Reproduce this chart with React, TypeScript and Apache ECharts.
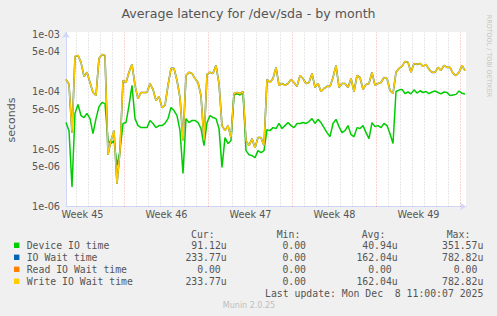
import React, { useEffect, useRef } from 'react';
import * as echarts from 'echarts';

// one consolidated sample every 6 hours, x = hours since the graph start
const stepHours = 6;
const spanHours = 800;

// Device IO time, microseconds
const deviceIoUs = [
  29, 21, 2.2, 42, 60, 38.5, 35.5, 42, 34, 18.6, 34, 55, 65, 62, 14.1, 12.5, 14.1, 5.2, 9.4, 28, 29, 58, 129, 34, 25.7, 23.7, 23.7,
  23.7, 31.6, 28, 23.7, 25.7, 25.7, 28, 34, 53, 47, 38.5, 21, 3.75, 34, 29, 31.6, 31.6, 29, 22.8, 11.5, 29, 38.5, 35.5, 34, 22.8, 4.8, 15.9,
  12.5, 14.1, 88, 92, 88, 96, 9.4, 8.0, 7.7, 7.1, 9.4, 8.7, 9.4, 21.9, 21, 23.7, 22.8, 28, 22.8, 25.7, 29, 25.7, 23.7, 28, 28, 29,
  28, 30.3, 34, 28, 33, 29, 23.7, 19.4, 16.5, 28, 33, 24.7, 19.4, 21, 25.7, 17.9, 16.5, 23.7, 22.8, 25.7, 19.4, 15.2, 29, 24.7, 25.7, 23.7, 28,
  25.7, 18.6, 12.5, 101, 107, 110, 93, 99, 92, 108, 95, 104, 97, 101, 93, 99, 103, 97, 92, 99, 97, 86, 88, 90, 103, 94, 91.12,
];

// IO Wait time, microseconds
const ioWaitUs = [
  164, 134, 19.4, 413, 430, 325, 185, 218, 145, 97, 86, 381, 448, 430, 8.0, 14.1, 21, 2.5, 9.4, 157, 145, 218, 300, 129, 76, 97, 97,
  97, 139, 110, 70, 83, 53, 58, 129, 255, 255, 157, 79, 14.1, 192, 218, 209, 170, 145, 86, 14.1, 200, 218, 209, 288, 139, 25.7, 21,
  25.7, 15.9, 93, 97, 93, 101, 14.1, 11.5, 15.2, 10.6, 15.9, 15.9, 11.5, 164, 145, 170, 266, 129, 139, 129, 139, 164, 145, 124, 192, 170,
  139, 145, 209, 119, 139, 101, 114, 124, 124, 177, 288, 119, 139, 139, 119, 170, 101, 192, 177, 110, 134, 139, 218, 129, 139, 145, 177,
  170, 105, 93, 218, 255, 277, 338, 325, 218, 312, 300, 312, 277, 300, 245, 218, 218, 266, 236, 288, 266, 266, 209, 192, 218, 288, 233.77,
];

// Write IO Wait time equals IO Wait time (identical statistics in the legend)
const writeIoWaitUs = ioWaitUs;
// Read IO Wait time is 0.00 throughout (drawn at the axis floor on the log scale)
const readIoWaitValue = 0;

const weekLabels = ['Week 45', 'Week 46', 'Week 47', 'Week 48', 'Week 49'];
const weekLabelHours = [33, 201, 369, 537, 705];
const mondayHours = [117, 285, 453, 621, 789];
const firstMidnightHour = 21;

const yTickValues = [1e-6, 5e-6, 1e-5, 5e-5, 1e-4, 5e-4, 1e-3];
const yTickLabels = ['1e-06', '5e-06', '1e-05', '5e-05', '1e-04', '5e-04', '1e-03'];
const yMinorMultipliers = [2, 3, 4, 6, 7, 8, 9];
const yDecades = [1e-6, 1e-5, 1e-4];

const legendNames = ['Device IO time', 'IO Wait time', 'Read IO Wait time', 'Write IO Wait time'];
const legendColors = ['#00CC00', '#0066B3', '#FF8000', '#FFCC00'];
const curVals = ['91.12u', '233.77u', '0.00', '233.77u'];
const minVals = ['0.00', '0.00', '0.00', '0.00'];
const avgVals = ['40.94u', '162.04u', '0.00', '162.04u'];
const maxVals = ['351.57u', '782.82u', '0.00', '782.82u'];
const columnHeaders = ['Cur:', 'Min:', 'Avg:', 'Max:'];

const titleText = 'Average latency for /dev/sda - by month';
const lastUpdate = 'Last update: Mon Dec \u00A08 11:00:07 2025';
const versionText = 'Munin 2.0.25';
const sideText = 'RRDTOOL / TOBI OETIKER';

const toSeries = (arr: number[]) => arr.map((v, i) => [i * stepHours, v * 1e-6]);

function closestLabel(v: number, values: number[], labels: string[], log: boolean) {
  let best = 0;
  let bd = Infinity;
  values.forEach((t, i) => {
    const d = log ? Math.abs(Math.log10(v) - Math.log10(t)) : Math.abs(v - t);
    if (d < bd) { bd = d; best = i; }
  });
  return labels[best];
}

export default function App() {
  const ref = useRef<HTMLDivElement>(null);
  useEffect(() => {
    if (!ref.current) return;
    const chart = echarts.init(ref.current, null, { renderer: 'svg' });

    const dayHours: number[] = [];
    for (let h = firstMidnightHour; h < spanHours; h += 24) {
      if (!mondayHours.includes(h)) dayHours.push(h);
    }
    const yMinor: number[] = [];
    yDecades.forEach((d) => yMinorMultipliers.forEach((m) => yMinor.push(d * m)));

    const minorStyle = { color: 'rgba(190,190,190,0.75)', type: [1, 2] as any, width: 1 };
    const majorStyle = { color: 'rgba(240,130,130,0.7)', type: [1, 2] as any, width: 1 };

    const gridLines = [
      ...yMinor.map((v) => ({ yAxis: v, lineStyle: minorStyle })),
      ...dayHours.map((h) => ({ xAxis: h, lineStyle: minorStyle })),
      ...yTickValues.map((v) => ({ yAxis: v, lineStyle: majorStyle })),
      ...mondayHours.map((h) => ({ xAxis: h, lineStyle: majorStyle })),
    ];

    const font = 'DejaVu Sans';
    const mono = 'DejaVu Sans Mono';
    const textColor = '#555555';
    const charW = 5.93;
    const legendFont = 9.8;

    const colRight = [226.7, 311.9, 397.7, 483.3];
    const headerLeft = [191, 276.7, 361.7, 446.7];
    const rowY = [245.3, 257.3, 269.3, 281.3];
    const cols = [curVals, minVals, avgVals, maxVals];

    const graphics: any[] = [
      {
        type: 'text', x: 248.5, y: 13.3,
        style: { text: titleText, fontFamily: font, fontSize: 12.6, fill: textColor, align: 'center', verticalAlign: 'middle' },
      },
      {
        type: 'text', x: 11, y: 120, rotation: Math.PI / 2,
        style: { text: 'seconds', fontFamily: font, fontSize: 11, fill: textColor, align: 'center', verticalAlign: 'middle' },
      },
      {
        type: 'text', x: 488.5, y: 56, rotation: -Math.PI / 2,
        style: { text: sideText, fontFamily: font, fontSize: 6.4, fill: '#c4c4c4', align: 'center', verticalAlign: 'middle' },
      },
      {
        type: 'text', x: 483.3, y: 293.3,
        style: { text: lastUpdate, fontFamily: mono, fontSize: legendFont, fill: textColor, align: 'right', verticalAlign: 'middle' },
      },
      {
        type: 'text', x: 249, y: 305.3,
        style: { text: versionText, fontFamily: font, fontSize: 8, fill: '#bdbdbd', align: 'center', verticalAlign: 'middle' },
      },
    ];
    columnHeaders.forEach((h, i) => {
      graphics.push({
        type: 'text', x: headerLeft[i], y: 234,
        style: { text: h, fontFamily: mono, fontSize: legendFont, fill: textColor, align: 'left', verticalAlign: 'middle' },
      });
    });
    legendNames.forEach((name, r) => {
      graphics.push({
        type: 'rect', shape: { x: 14, y: rowY[r] - 2.7, width: 5.4, height: 5.4 },
        style: { fill: legendColors[r] },
      });
      graphics.push({
        type: 'text', x: 26.7, y: rowY[r],
        style: { text: name, fontFamily: mono, fontSize: legendFont, fill: textColor, align: 'left', verticalAlign: 'middle' },
      });
      cols.forEach((col, c) => {
        const s = col[r];
        const hasUnit = /[a-zA-Z]$/.test(s);
        graphics.push({
          type: 'text', x: colRight[c] - (hasUnit ? 0 : charW), y: rowY[r],
          style: { text: s, fontFamily: mono, fontSize: legendFont, fill: textColor, align: 'right', verticalAlign: 'middle' },
        });
      });
    });

    const lineBase = { type: 'line', showSymbol: false, symbol: 'none', smooth: false, z: 2 };

    chart.setOption({
      animation: false,
      backgroundColor: '#F0F0F0',
      grid: { left: 66, top: 32, width: 400, height: 174.5, show: true, backgroundColor: '#FFFFFF', borderWidth: 0 },
      xAxis: {
        type: 'value', min: 0, max: spanHours,
        axisLine: { show: true, lineStyle: { color: '#CFD6F8', width: 1 }, symbol: ['none', 'arrow'], symbolSize: [6, 6] },
        axisTick: { show: false },
        splitLine: { show: false },
        axisLabel: {
          customValues: weekLabelHours,
          formatter: (v: number) => closestLabel(v, weekLabelHours, weekLabels, false),
          fontFamily: font, fontSize: 9.7, color: textColor, margin: 3,
        },
      },
      yAxis: {
        type: 'log', logBase: 10, min: 1e-6, max: 1.1e-3,
        axisLine: { show: true, lineStyle: { color: '#CFD6F8', width: 1 }, symbol: ['none', 'arrow'], symbolSize: [6, 6] },
        axisTick: { show: false },
        splitLine: { show: false },
        minorSplitLine: { show: false },
        axisLabel: {
          customValues: yTickValues,
          formatter: (v: number) => closestLabel(v, yTickValues, yTickLabels, true),
          fontFamily: font, fontSize: 9.7, color: textColor, margin: 6,
        },
      },
      graphic: graphics,
      series: [
        {
          ...lineBase, name: 'Device IO time', data: toSeries(deviceIoUs),
          lineStyle: { color: legendColors[0], width: 1.5 },
          markLine: { silent: true, symbol: ['none', 'none'], z: 1, label: { show: false }, data: gridLines },
        },
        {
          ...lineBase, name: 'IO Wait time', data: toSeries(ioWaitUs),
          lineStyle: { color: legendColors[1], width: 1.6 },
        },
        {
          ...lineBase, name: 'Read IO Wait time', data: [],
          markLine: {
            silent: true, symbol: ['none', 'none'], z: 3, label: { show: false },
            data: [{ yAxis: Math.max(readIoWaitValue, 1e-6), lineStyle: { color: '#F6A36A', type: 'solid', width: 1.2 } }],
          },
        },
        {
          ...lineBase, name: 'Write IO Wait time', data: toSeries(writeIoWaitUs),
          lineStyle: { color: legendColors[3], width: 1.5 }, z: 4,
        },
      ],
    });
    return () => chart.dispose();
  }, []);
  return <div ref={ref} style={{ position: 'fixed', left: 0, top: 0, width: 497, height: 316 }} />;
}
